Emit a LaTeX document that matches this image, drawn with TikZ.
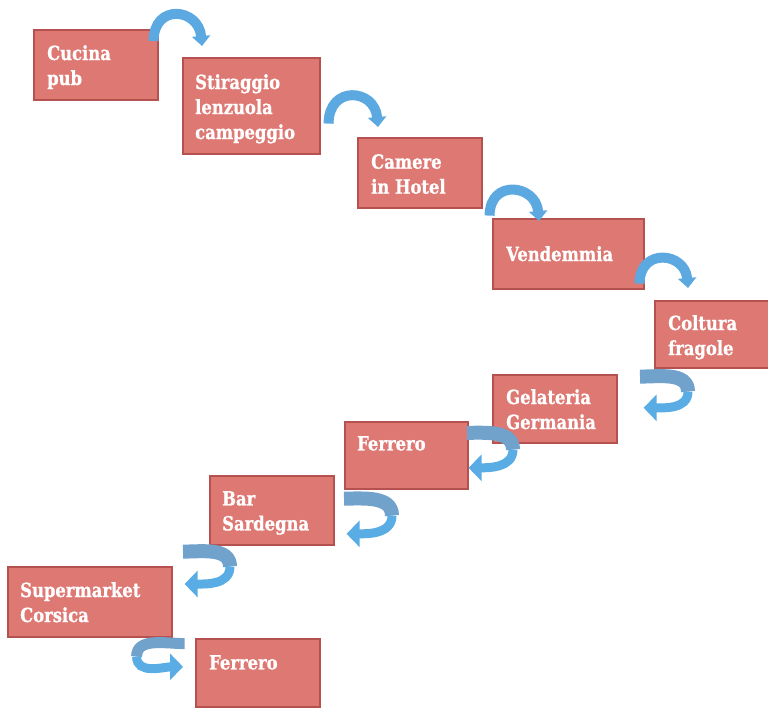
\documentclass[tikz,border=0pt]{standalone}
\usepackage{fontspec}
\newfontfamily\boxfont{DejaVu Serif}[FakeStretch=0.84, BoldFeatures={FakeBold=0.8}]
\usetikzlibrary{calc,arrows.meta,shadows}
\definecolor{boxfill}{HTML}{DE7873}
\definecolor{boxline}{HTML}{B5524F}
\definecolor{arcblue}{HTML}{5CA9E1}
\definecolor{backblue}{HTML}{70A2CC}
\definecolor{frontblue}{HTML}{59ACE4}
\begin{document}
\begin{tikzpicture}[x=1pt,y=1pt,
 box/.style={draw=boxline, line width=1.6pt, fill=boxfill, anchor=north west, inner sep=0pt,
   drop shadow={opacity=0.3,shadow xshift=1pt,shadow yshift=-1.5pt}},
 txt/.style={anchor=north west, inner sep=0pt, align=left, text=white,
   font=\boxfont\fontsize{19.5}{25}\selectfont\bfseries},
 arcarrow/.style={draw=arcblue, line width=10pt, -{Triangle[width=18pt,length=10pt]}},
 backband/.style={draw=backblue, line width=14pt},
 frontband/.style={draw=frontblue, line width=9pt, -{Triangle[width=26pt,length=13pt]}},
]
\useasboundingbox (0,0) rectangle (768,-707);

\node[box, minimum width=124, minimum height=70,
  label={[txt,xshift=14,yshift=-16]north west:{Cucina\\pub}}] (b1) at (33,-29) {};
\node[box, minimum width=137, minimum height=96,
  label={[txt,xshift=13,yshift=-17]north west:{Stiraggio\\lenzuola\\campeggio}}] (b2) at (182,-57) {};
\node[box, minimum width=124, minimum height=70,
  label={[txt,xshift=14,yshift=-17]north west:{Camere\\in Hotel}}] (b3) at (357,-137) {};
\node[box, minimum width=151, minimum height=70,
  label={[txt,xshift=14,yshift=-28]north west:{Vendemmia}}] (b4) at (492,-218) {};
\node[box, minimum width=124, minimum height=67,
  label={[txt,xshift=14,yshift=-15]north west:{Coltura\\fragole}}] (b5) at (654,-300) {};
\node[box, minimum width=124, minimum height=68,
  label={[txt,xshift=14,yshift=-15]north west:{Gelateria\\Germania}}] (b6) at (492,-374) {};
\node[box, minimum width=123, minimum height=67,
  label={[txt,xshift=13,yshift=-15]north west:{Ferrero}}] (b7) at (344,-421) {};
\node[box, minimum width=124, minimum height=69,
  label={[txt,xshift=13,yshift=-16]north west:{Bar\\Sardegna}}] (b8) at (209,-475) {};
\node[box, minimum width=164, minimum height=70,
  label={[txt,xshift=13,yshift=-16]north west:{Supermarket\\Corsica}}] (b9) at (7,-566) {};
\node[box, minimum width=124, minimum height=68,
  label={[txt,xshift=14,yshift=-17]north west:{Ferrero}}] (b10) at (195,-638) {};

% arcs over the top
\coordinate (a1s) at ($(b1.north east)+(-5,-12)$);
\coordinate (a1t) at ($(b2.north west)+(20,11)$);
\coordinate (a2s) at ($(b2.south east)+(8,31)$);
\coordinate (a2t) at ($(b3.north west)+(21,10)$);
\coordinate (a3s) at ($(b3.south east)+(7,-7)$);
\coordinate (a3t) at ($(b4.north west)+(47,-3)$);
\coordinate (a4s) at ($(b4.south east)+(-5,6)$);
\coordinate (a4t) at ($(b5.north west)+(34,12)$);
\draw[arcarrow] (a1s) to[out=90,in=95,looseness=2.0] (a1t);
\draw[arcarrow] (a2s) to[out=90,in=95,looseness=2.0] (a2t);
\draw[arcarrow] (a3s) to[out=90,in=95,looseness=1.9] (a3t);
\draw[arcarrow] (a4s) to[out=90,in=95,looseness=1.9] (a4t);

% U-turn ribbons
\coordinate (a5s) at ($(b5.south west)+(-14,-8)$);
\coordinate (a5m) at ($(b5.south west)+(34,-23)$);
\coordinate (a5t) at ($(b6.east)+(26,1)$);
\coordinate (a6s) at ($(b6.west)+(-25,-24)$);
\coordinate (a6m) at ($(b6.south west)+(21,-6)$);
\coordinate (a6t) at ($(b7.east)+(0,-12.5)$);
\coordinate (a7s) at ($(b7.south west)+(0,-9)$);
\coordinate (a7m) at ($(b7.south west)+(48,-26)$);
\coordinate (a7t) at ($(b8.east)+(12,-23.5)$);
\coordinate (a8s) at ($(b8.south west)+(-26,-6)$);
\coordinate (a8m) at ($(b8.south west)+(21,-21)$);
\coordinate (a8t) at ($(b9.north east)+(12,-18)$);
\coordinate (a9s) at ($(b9.south east)+(12,-6)$);
\coordinate (a9m) at ($(b9.south east)+(-36,-19)$);
\coordinate (a9t) at ($(b10.west)+(-12,6)$);

\draw[backband] (a5s) to[out=0,in=90] (a5m);
\draw[frontband] (a5m) to[out=-90,in=0] (a5t);
\draw[backband] (a6s) to[out=0,in=90] (a6m);
\draw[frontband] (a6m) to[out=-90,in=0] (a6t);
\draw[backband] (a7s) to[out=0,in=90] (a7m);
\draw[frontband] (a7m) to[out=-90,in=0] (a7t);
\draw[backband] (a8s) to[out=0,in=90] (a8m);
\draw[frontband] (a8m) to[out=-90,in=0] (a8t);
\draw[backband, line width=11pt] (a9s) to[out=180,in=90] (a9m);
\draw[frontband] (a9m) to[out=-90,in=180] (a9t);
\end{tikzpicture}
\end{document}
